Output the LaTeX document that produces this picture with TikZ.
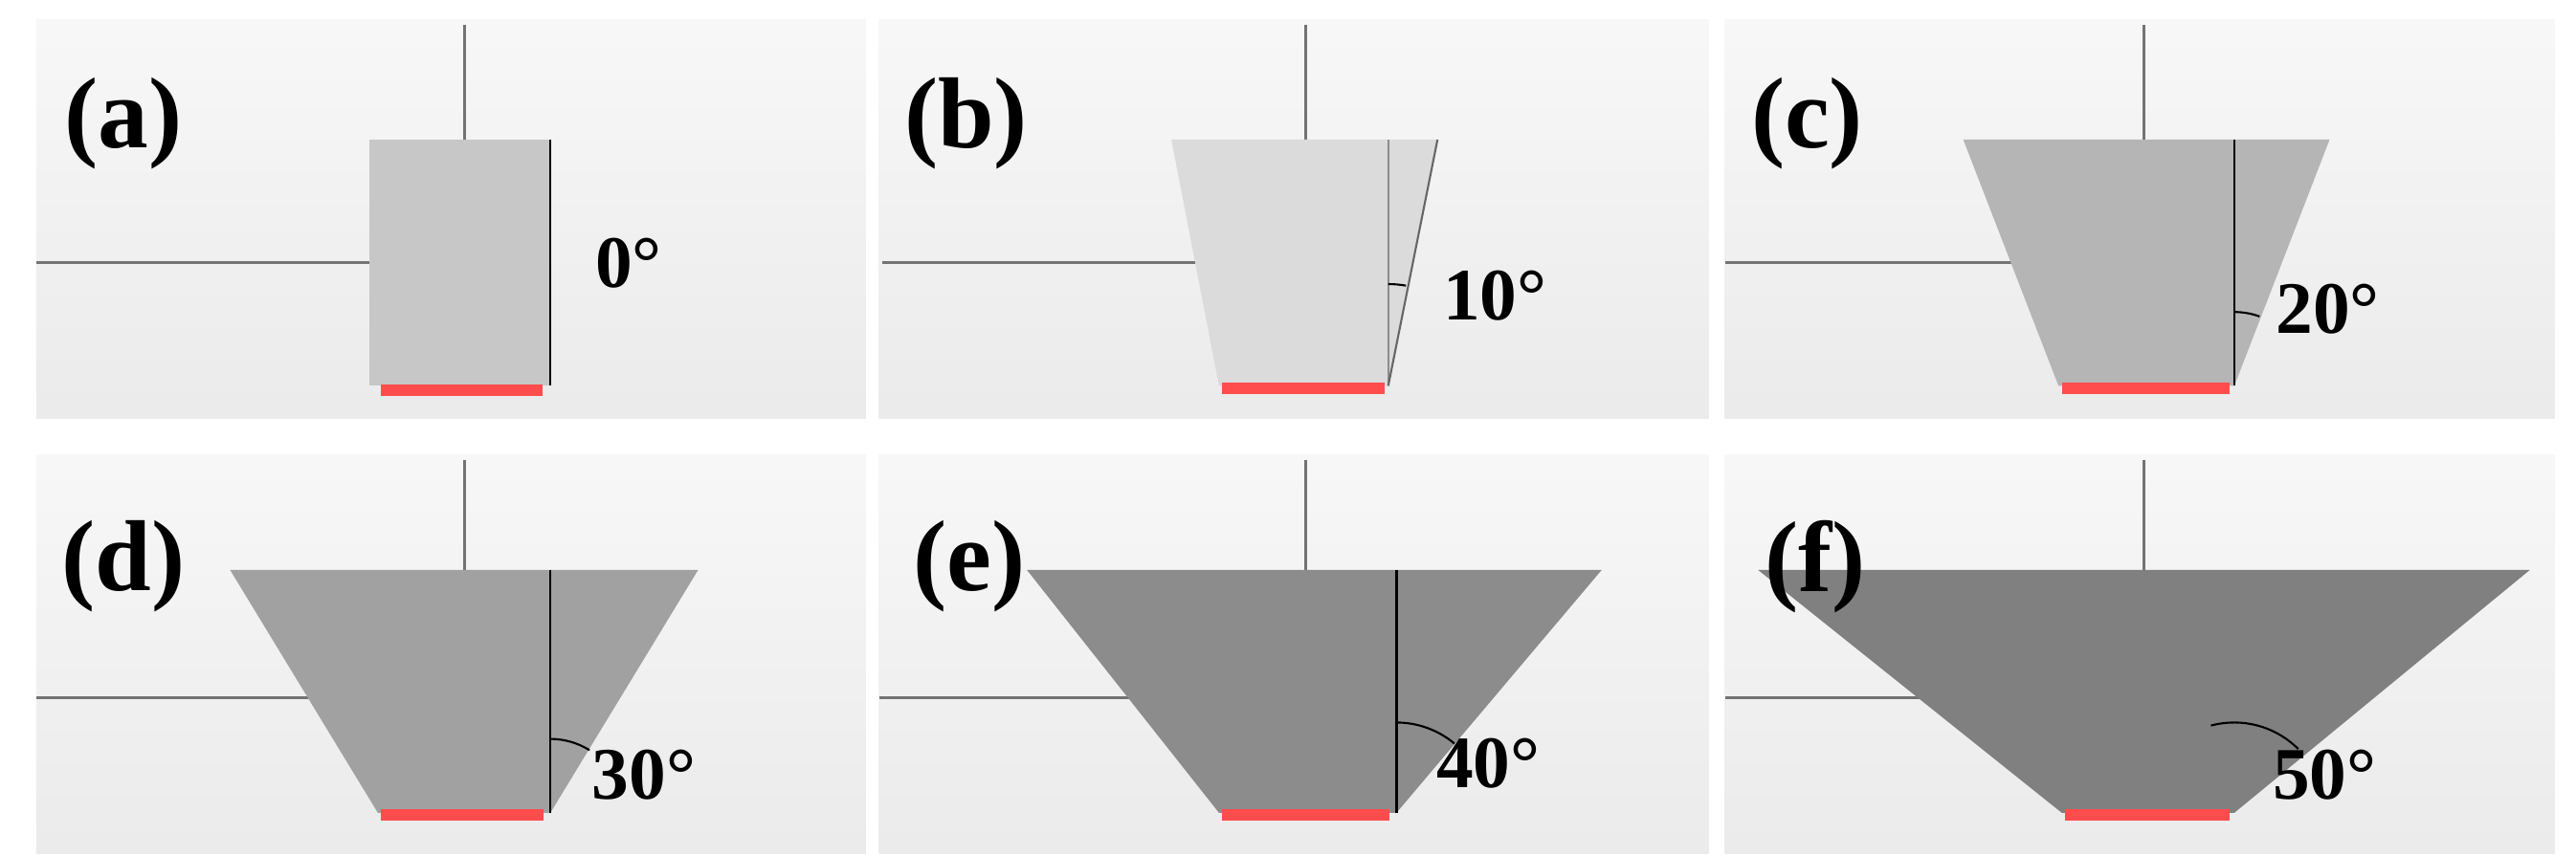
\documentclass[tikz,border=0pt]{standalone}
\usepackage{fontspec}
\setmainfont{Liberation Serif}
\begin{document}
\begin{tikzpicture}[x=0.01717cm,y=-0.01717cm,
  thin line/.style={draw=black!55,line width=0.9pt},
  edge line/.style={draw=black,line width=0.7pt},
  angarc/.style={draw=black,line width=0.6pt},
  redbar/.style={fill=red!70!white,draw=none},
  plabel/.style={font=\bfseries\fontsize{30}{32}\selectfont,inner sep=0},
  alabel/.style={font=\bfseries\fontsize{22}{24}\selectfont,inner sep=0,anchor=west}]
\useasboundingbox (0,0) rectangle (1568,521);
\fill[white] (0,0) rectangle (1568,521);
\foreach \x/\y in {22/12,535/12,1050/12,22/277,535/277,1050/277}{
  \shade[top color=black!3,bottom color=black!8] (\x,\y) rectangle ++(505,243);
}
% panel a
\draw[thin line] (283,15) -- (283,85);
\draw[thin line] (22,160) -- (225,160);
\fill[black!22] (225,85) rectangle (335,235);
\draw[edge line] (335,85) -- (335,235);
\fill[redbar] (232,234) rectangle (330,241);
\node[alabel] (la) at (362,160) {0°};
\node[plabel] (pa) at (75,75) {(a)};
% panel b
\draw[thin line] (795,15) -- (795,85);
\draw[thin line] (537,160) -- (728,160);
\fill[black!14] (713,85) -- (875,85) -- (845,235) -- (742,235) -- cycle;
\draw[black!45,line width=0.6pt] (845,85) -- (845,235);
\draw[black!60,line width=0.6pt] (875,85) -- (845,235);
\coordinate (vb) at (845,235);
\draw[angarc] (vb) ++(-90:62) arc (-90:-80:62);
\fill[redbar] (744,233) rectangle (843,240);
\node[alabel] (lb) at (878,180) {10°};
\node[plabel] (pb) at (588,75) {(b)};
% panel c
\draw[thin line] (1305,15) -- (1305,85);
\draw[thin line] (1050,160) -- (1243,160);
\fill[black!29] (1195,85) -- (1418,85) -- (1360,235) -- (1253,235) -- cycle;
\draw[edge line] (1360,85) -- (1360,235);
\coordinate (vc) at (1360,235);
\draw[angarc] (vc) ++(-90:45) arc (-90:-70:45);
\fill[redbar] (1255,233) rectangle (1357,240);
\node[alabel] (lc) at (1385,188) {20°};
\node[plabel] (pc) at (1100,75) {(c)};
% panel d
\draw[thin line] (283,280) -- (283,347);
\draw[thin line] (22,425) -- (200,425);
\fill[black!37] (140,347) -- (425,347) -- (335,495) -- (230,495) -- cycle;
\draw[edge line] (335,347) -- (335,495);
\coordinate (vd) at (335,495);
\draw[angarc] (vd) ++(-90:45) arc (-90:-58:45);
\fill[redbar] (232,493) rectangle (331,500);
\node[alabel] (ld) at (360,472) {30°};
\node[plabel] (pd) at (75,345) {(d)};
% panel e
\draw[thin line] (795,280) -- (795,347);
\draw[thin line] (535,425) -- (700,425);
\fill[black!45] (625,347) -- (975,347) -- (850,495) -- (742,495) -- cycle;
\draw[edge line] (850,347) -- (850,495);
\coordinate (ve) at (850,495);
\draw[angarc] (ve) ++(-90:55) arc (-90:-50:55);
\fill[redbar] (744,493) rectangle (846,500);
\node[alabel] (le) at (874,465) {40°};
\node[plabel] (pe) at (590,345) {(e)};
% panel f
\draw[thin line] (1305,280) -- (1305,347);
\draw[thin line] (1050,425) -- (1180,425);
\fill[black!50] (1070,347) -- (1540,347) -- (1360,495) -- (1255,495) -- cycle;
\coordinate (vf) at (1360,495);
\draw[angarc] (vf) ++(-105:55) arc (-105:-45:55);
\fill[redbar] (1257,493) rectangle (1357,500);
\node[alabel] (lf) at (1383,472) {50°};
\node[plabel] (pf) at (1105,345) {(f)};
\end{tikzpicture}
\end{document}
